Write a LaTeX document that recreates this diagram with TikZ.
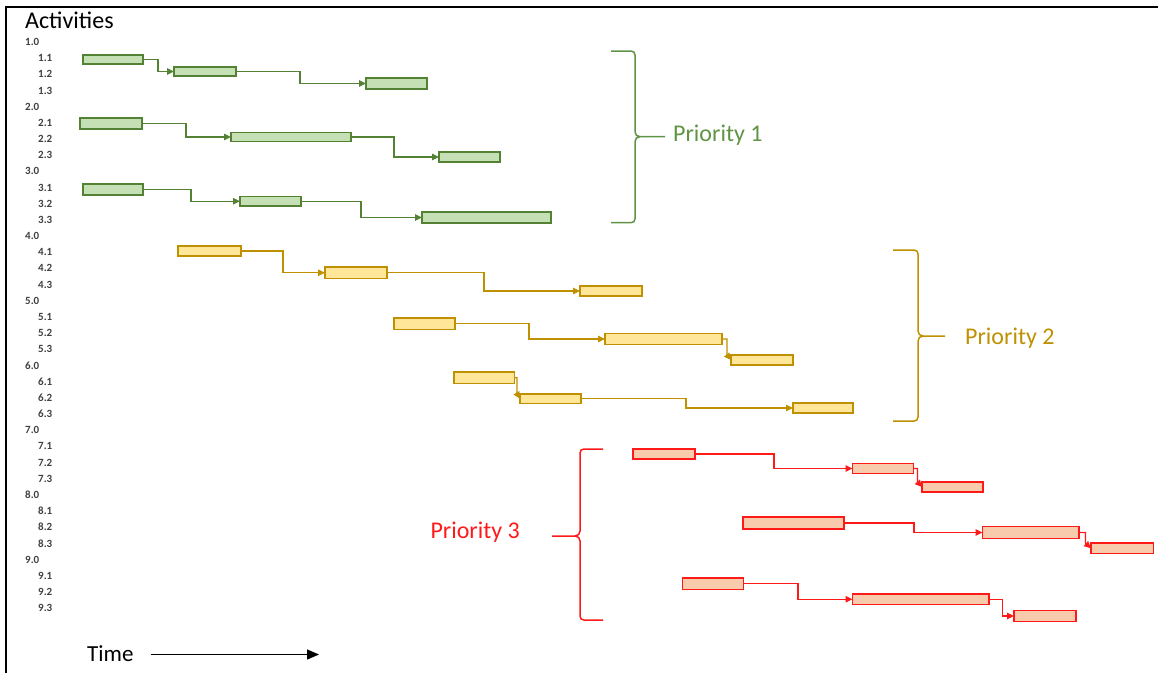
\documentclass[tikz,border=0pt]{standalone}
\usepackage{fontspec}
\setmainfont{Carlito}
\usetikzlibrary{arrows.meta,calc}

\definecolor{gline}{HTML}{548235}
\definecolor{gfill}{HTML}{C5E0B4}
\definecolor{gtext}{HTML}{5F9444}
\definecolor{yline}{HTML}{BF9000}
\definecolor{yfill}{HTML}{FFE699}
\definecolor{rline}{HTML}{FF1A1A}
\definecolor{rfill}{HTML}{F8CBAD}
\definecolor{labelgray}{HTML}{404040}

% a task bar given by its top-left and bottom-right corners
\newcommand\taskbar[6]{%
  \node[#1,anchor=north west,minimum width={(#5)-(#3)},minimum height={(#6)-(#4)}] (#2) at (#3,#4) {};}

% a curly brace: style, open-end x, spine x, top y, middle y, bottom y, tail x, side (1 right, -1 left)
\newcommand\curlybrace[8]{%
  \draw[#1] (#2,#4) -- ({#3-4*#8},#4) .. controls ({#3-1.5*#8},#4) and (#3,{#4+1.5}) .. (#3,{#4+4})
    -- (#3,{#5-5}) .. controls (#3,{#5-2}) and ({#3+2*#8},#5) .. ({#3+5*#8},#5) -- (#7,#5)
    ({#3+5*#8},#5) .. controls ({#3+2*#8},#5) and (#3,{#5+2}) .. (#3,{#5+5})
    -- (#3,{#6-4}) .. controls (#3,{#6-1.5}) and ({#3-1.5*#8},#6) .. ({#3-4*#8},#6) -- (#2,#6);}

\begin{document}
\begin{tikzpicture}[x=1pt,y=-1pt,
  bar/.style={draw,line width=1.6pt,inner sep=0pt,outer sep=0pt},
  gbar/.style={bar,draw=gline,fill=gfill},
  ybar/.style={bar,draw=yline,fill=yfill},
  rbar/.style={bar,draw=rline,fill=rfill},
  link/.style={line width=1.4pt,-{Triangle[length=7pt,width=6.5pt]}},
  glink/.style={link,draw=gline},
  ylink/.style={link,draw=yline},
  rlink/.style={link,draw=rline},
  brace/.style={line width=1.5pt,line join=round},
  rowlabel/.style={anchor=west,inner sep=0pt,text=labelgray,font=\fontsize{11}{13}\selectfont\bfseries},
  bigtext/.style={inner sep=0pt,font=\fontsize{24}{28}\selectfont}]

\useasboundingbox (0,0) rectangle (1158,673);

% frame
\draw[line width=2.2pt] (1158,7) -- (5.7,7) -- (5.7,673);

% heading and activity numbers
\node[bigtext,anchor=base west] (activities) at (25,28.5) {Activities};
\foreach \g in {1,...,9}{
  \foreach \s in {0,1,2,3}{
    \pgfmathsetmacro\yy{42+16.17*(4*(\g-1)+\s)}
    \pgfmathsetmacro\xx{\s==0 ? 25 : 38}
    \node[rowlabel] (lbl-\g-\s) at (\xx,\yy) {\g.\s};
  }
}

% priority 1 tasks
\taskbar{gbar}{g11}{83}{55}{143}{64}
\taskbar{gbar}{g12}{174}{67}{236}{76}
\taskbar{gbar}{g13}{366}{78}{427}{89}
\taskbar{gbar}{g21}{80}{118}{142}{129}
\taskbar{gbar}{g22}{231}{132.5}{351}{141.5}
\taskbar{gbar}{g23}{439}{152}{500}{162}
\taskbar{gbar}{g31}{83}{184}{143}{195}
\taskbar{gbar}{g32}{240}{196.5}{301}{206}
\taskbar{gbar}{g33}{422}{212}{551}{223}

\draw[glink] (g11.east) -- ++(15,0) |- (g12.west);
\draw[glink] (g12.east) -- ++(64,0) |- (g13.west);
\draw[glink] (g21.east) -- ++(44,0) |- (g22.west);
\draw[glink] (g22.east) -- ++(43,0) |- (g23.west);
\draw[glink] (g31.east) -- ++(48,0) |- (g32.west);
\draw[glink] (g32.east) -- ++(60,0) |- (g33.west);

% priority 2 tasks
\taskbar{ybar}{y41}{178}{246}{241}{256}
\taskbar{ybar}{y42}{325}{267}{387}{278.5}
\taskbar{ybar}{y43}{580}{286}{642}{296}
\taskbar{ybar}{y51}{394}{318}{455}{329.5}
\taskbar{ybar}{y52}{605}{333.5}{722}{344.5}
\taskbar{ybar}{y53}{731}{355}{793}{365}
\taskbar{ybar}{y61}{454}{372}{514.5}{383.5}
\taskbar{ybar}{y62}{520}{394}{581}{403.5}
\taskbar{ybar}{y63}{793}{403}{853}{413}

\draw[ylink] (y41.east) -- ++(42,0) |- (y42.west);
\draw[ylink] (y42.east) -- ++(97,0) |- (y43.west);
\draw[ylink] (y51.east) -- ++(74,0) |- (y52.west);
\draw[ylink] (y52.east) -| ($(y53.west)+(-4,-5)$) -- (y53.west);
\draw[ylink] (y61.east) -| ($(y62.west)+(-3,-5)$) -- (y62.west);
\draw[ylink] (y62.east) -- ++(105,0) |- (y63.west);

% priority 3 tasks
\taskbar{rbar}{r71}{633}{449}{695}{459}
\taskbar{rbar}{r72}{852.5}{463.5}{913.5}{473.5}
\taskbar{rbar}{r73}{922}{482}{983}{492}
\taskbar{rbar}{r81}{743}{517}{844}{529}
\taskbar{rbar}{r82}{982.5}{526.5}{1079}{538.5}
\taskbar{rbar}{r83}{1091}{543}{1153.5}{553.5}
\taskbar{rbar}{r91}{682.5}{578}{743.5}{589.5}
\taskbar{rbar}{r92}{852.5}{594}{989}{604.5}
\taskbar{rbar}{r93}{1014}{610.5}{1076}{621.5}

\draw[rlink] (r71.east) -- ++(79,0) |- (r72.west);
\draw[rlink] (r72.east) -| ($(r73.west)+(-4.5,-5)$) -- (r73.west);
\draw[rlink] (r81.east) -- ++(70,0) |- (r82.west);
\draw[rlink] (r82.east) -| ($(r83.west)+(-5.5,-5)$) -- (r83.west);
\draw[rlink] (r91.east) -- ++(54.5,0) |- (r92.west);
\draw[rlink] (r92.east) -- ++(13.4,0) |- (r93.west);

% priority groups
\curlybrace{brace,draw=gtext}{611}{635}{51}{136.7}{222.7}{665}{1}
\node[bigtext,anchor=base west,text=gtext] (p1) at (673,141.7) {Priority 1};

\curlybrace{brace,draw=yline}{893}{918}{250}{336}{421}{945}{1}
\node[bigtext,anchor=base west,text=yline] (p2) at (965,344.5) {Priority 2};

\curlybrace{brace,draw=rline}{603}{580}{449}{536}{620}{552}{-1}
\node[bigtext,anchor=base east,text=rline] (p3) at (520,538.3) {Priority 3};

% time axis
\node[bigtext,anchor=base west,font=\fontsize{23}{27}\selectfont] (time) at (87,661.7) {Time};
\coordinate (timeend) at (319,654.5);
\draw[line width=1.3pt,-{Triangle[length=12pt,width=10pt]}] ([xshift=17pt]time.east |- timeend) -- (timeend);

\end{tikzpicture}
\end{document}
